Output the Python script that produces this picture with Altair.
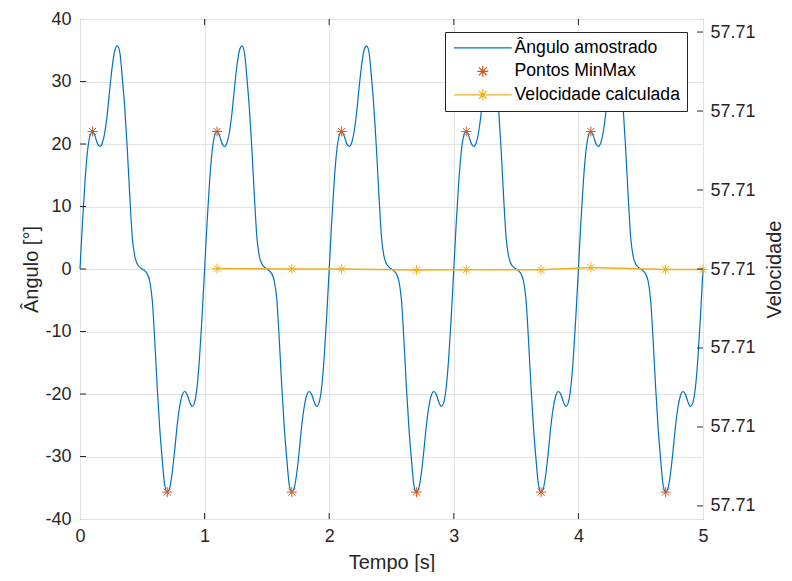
import altair as alt
import pandas as pd

# ---------------- data ----------------
# one period (1 s) of the sampled angle, repeated over 5 s
period_t = [0.00, 0.02, 0.04, 0.06, 0.08, 0.10, 0.12, 0.14, 0.16, 0.18,
            0.20, 0.22, 0.24, 0.26, 0.28, 0.30, 0.32, 0.34, 0.36, 0.38,
            0.40, 0.42, 0.44, 0.46, 0.48, 0.50, 0.52, 0.54, 0.56, 0.58,
            0.60, 0.62, 0.64, 0.66, 0.68, 0.70, 0.72, 0.74, 0.76, 0.78,
            0.80, 0.82, 0.84, 0.86, 0.88, 0.90, 0.92, 0.94, 0.96, 0.98]
period_v = [0.0, 7.5, 14.0, 18.8, 21.3, 22.0, 21.3, 20.1, 19.6, 20.2,
            22.0, 25.0, 29.0, 32.6, 35.0, 35.7, 34.6, 30.5, 25.5, 19.0,
            11.5, 5.0, 2.0, 0.8, 0.3, 0.0, -0.3, -0.8, -2.0, -5.0,
            -11.5, -19.0, -25.5, -30.5, -34.6, -35.7, -35.0, -32.6, -29.0, -25.0,
            -22.0, -20.2, -19.6, -20.1, -21.3, -22.0, -21.3, -18.8, -14.0, -7.5]
n_periods = 5

minmax_t = [0.1, 0.7, 1.1, 1.7, 2.1, 2.7, 3.1, 3.7, 4.1, 4.7]
minmax_v = [22.0, -35.7, 22.0, -35.7, 22.0, -35.7, 22.0, -35.7, 22.0, -35.7]

vel_t = [1.1, 1.7, 2.1, 2.7, 3.1, 3.7, 4.1, 4.7, 5.0]
vel_v = [57.710000005, 57.710000000, 57.710000000, 57.709999987, 57.709999990,
         57.709999990, 57.710000019, 57.709999994, 57.709999994]

x_ticks = [0, 1, 2, 3, 4, 5]
x_inner_ticks = [1, 2, 3, 4]
yl_ticks = [-40, -30, -20, -10, 0, 10, 20, 30, 40]
yl_inner_ticks = [-30, -20, -10, 0, 10, 20, 30]
yr_ticks = [57.709997, 57.709998, 57.709999, 57.710000, 57.710001, 57.710002, 57.710003]
yr_domain = [57.709996835, 57.710003165]

series_names = ["Ângulo amostrado", "Pontos MinMax", "Velocidade calculada"]

# ---------------- styling ----------------
FONT = "Liberation Sans"
BLUE = "#0072BD"
RED = "#D95319"
YEL = "#EDB120"
AX = "#262626"
GRID = "#e3e3e3"
W, H = 623, 500

STAR = "M0,-1V1M-1,0H1M-0.71,-0.71L0.71,0.71M-0.71,0.71L0.71,-0.71"
LINE = "M-5.27,0H5.27"
LINESTAR = LINE + STAR

t_all = []
v_all = []
for k in range(n_periods):
    t_all += [k + p for p in period_t]
    v_all += period_v
t_all.append(float(n_periods))
v_all.append(period_v[0])

angle_df = pd.DataFrame({"t": t_all, "v": v_all})
mm_df = pd.DataFrame({"t": minmax_t, "v": minmax_v})
vel_df = pd.DataFrame({"t": vel_t, "v": vel_v})
xt_df = pd.DataFrame({"tx": x_inner_ticks})
ylt_df = pd.DataFrame({"ty": yl_inner_ticks})
yrt_df = pd.DataFrame({"ty": yr_ticks})
leg_df = pd.DataFrame({"serie": series_names})

x_scale = alt.Scale(domain=[0, 5], nice=False, zero=False)
yl_scale = alt.Scale(domain=[-40, 40], nice=False, zero=False)
yr_scale = alt.Scale(domain=yr_domain, nice=False, zero=False)

common_axis = dict(labelFont=FONT, labelFontSize=18, labelColor=AX,
                   titleFont=FONT, titleFontSize=20, titleFontWeight="normal",
                   titleColor=AX, ticks=False, domain=False, labelFlush=False)

x_axis = alt.Axis(values=x_ticks, format="d", title="Tempo [s]", grid=True,
                  gridColor=GRID, labelPadding=8, titleY=33, **common_axis)
yl_axis = alt.Axis(values=yl_ticks, format="d", title="Ângulo [°]", grid=True,
                   gridColor=GRID, labelPadding=9, titleX=-39,
                   labelExpr="replace(datum.label, '\u2212', '-')", **common_axis)
yr_axis = alt.Axis(values=yr_ticks, format=".2f", title="Velocidade", grid=False,
                   orient="right", labelPadding=7, titleAngle=270, titleBaseline="top",
                   titleX=61, **common_axis)

X = alt.X("t:Q", scale=x_scale, axis=x_axis)
YL = alt.Y("v:Q", scale=yl_scale, axis=yl_axis)
YR = alt.Y("v:Q", scale=yr_scale, axis=yr_axis)

legend = alt.Legend(title=None, orient="none", legendX=365, legendY=13,
                    fillColor="white", strokeColor=AX, padding=7,
                    labelFont=FONT, labelFontSize=17.6, labelColor="black",
                    labelLimit=400,
                    symbolSize=121, symbolStrokeWidth=1.2, symbolOffset=22,
                    labelOffset=23, rowPadding=4.5, symbolOpacity=1)

angle_line = alt.Chart(angle_df).mark_line(
    color=BLUE, strokeWidth=1.2, interpolate="monotone").encode(x=X, y=YL)

mm_pts = alt.Chart(mm_df).mark_point(
    shape=STAR, size=100, color=RED, filled=False, strokeWidth=1, opacity=1
).encode(x=X, y=YL)

bottom_ticks = alt.Chart(xt_df).mark_rule(color=AX, strokeWidth=1).encode(
    x=alt.X("tx:Q", scale=x_scale, axis=x_axis), y=alt.value(H), y2=alt.value(H - 6))
top_ticks = alt.Chart(xt_df).mark_rule(color=AX, strokeWidth=1).encode(
    x=alt.X("tx:Q", scale=x_scale, axis=x_axis), y=alt.value(0), y2=alt.value(6))
left_ticks = alt.Chart(ylt_df).mark_rule(color=AX, strokeWidth=1).encode(
    y=alt.Y("ty:Q", scale=yl_scale, axis=yl_axis), x=alt.value(0), x2=alt.value(6))

legend_layer = alt.Chart(leg_df).mark_point(filled=False, opacity=0).encode(
    color=alt.Color("serie:N", scale=alt.Scale(domain=series_names, range=[BLUE, RED, YEL]),
                    legend=legend),
    shape=alt.Shape("serie:N", scale=alt.Scale(domain=series_names, range=[LINE, STAR, LINESTAR]),
                    legend=legend),
)

vel_line = alt.Chart(vel_df).mark_line(color=YEL, strokeWidth=1.5).encode(x=X, y=YR)
vel_pts = alt.Chart(vel_df).mark_point(
    shape=STAR, size=100, color=YEL, filled=False, strokeWidth=1, opacity=1
).encode(x=X, y=YR)
right_ticks = alt.Chart(yrt_df).mark_rule(color=AX, strokeWidth=1).encode(
    y=alt.Y("ty:Q", scale=yr_scale, axis=yr_axis), x=alt.value(W), x2=alt.value(W - 6))

left = alt.layer(angle_line, mm_pts, bottom_ticks, top_ticks, left_ticks, legend_layer)
right = alt.layer(vel_line, vel_pts, right_ticks)

chart = alt.layer(left, right).resolve_scale(y="independent").properties(
    width=W, height=H,
    autosize=alt.AutoSizeParams(type="none"),
    padding={"left": 72, "top": 11, "right": 81, "bottom": 53},
).configure(font=FONT).configure_view(stroke=AX, strokeWidth=1)

chart.save("out.html", embed_options={"renderer": "svg", "actions": False})
